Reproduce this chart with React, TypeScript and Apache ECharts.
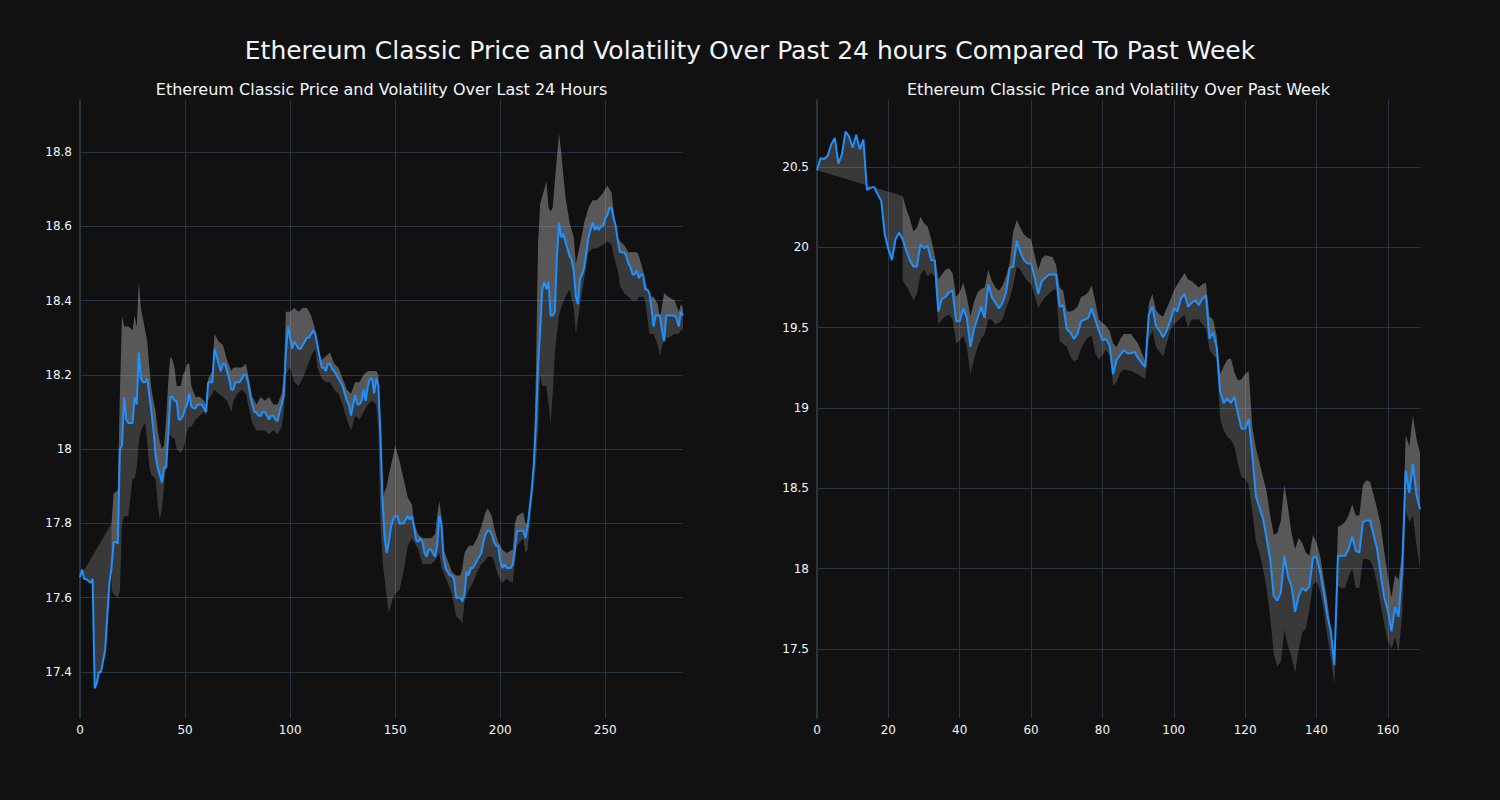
import React, { useEffect, useRef } from "react";
import * as echarts from "echarts";

// ---------- Data ----------
// Last 24 hours (5-minute steps), index 0..287
const leftPrice = [
  17.655, 17.676, 17.65, 17.65, 17.645, 17.64, 17.65, 17.356, 17.37, 17.4,
  17.4, 17.43, 17.46, 17.55, 17.64, 17.68, 17.75, 17.75, 17.745, 18.0,
  18.01, 18.14, 18.08, 18.07, 18.07, 18.07, 18.14, 18.12, 18.26, 18.19,
  18.18, 18.18, 18.19, 18.145, 18.1, 18.05, 17.98, 17.95, 17.93, 17.91,
  17.95, 17.95, 18.04, 18.14, 18.14, 18.13, 18.13, 18.08, 18.08, 18.09,
  18.11, 18.12, 18.15, 18.115, 18.11, 18.11, 18.12, 18.12, 18.12, 18.11,
  18.1, 18.18, 18.18, 18.18, 18.27, 18.25, 18.23, 18.21, 18.23, 18.23,
  18.21, 18.19, 18.16, 18.16, 18.18, 18.18, 18.18, 18.19, 18.2, 18.2,
  18.18, 18.145, 18.12, 18.1, 18.1, 18.09, 18.09, 18.1, 18.1, 18.09,
  18.08, 18.09, 18.09, 18.08, 18.075, 18.1, 18.12, 18.145, 18.26, 18.33,
  18.3, 18.27, 18.29, 18.28, 18.27, 18.27, 18.28, 18.29, 18.3, 18.3,
  18.31, 18.32, 18.31, 18.28, 18.25, 18.22, 18.22, 18.21, 18.23, 18.23,
  18.215, 18.21, 18.2, 18.19, 18.18, 18.17, 18.15, 18.13, 18.12, 18.09,
  18.12, 18.145, 18.12, 18.12, 18.13, 18.16, 18.13, 18.17, 18.19, 18.19,
  18.15, 18.19, 18.17, 18.04, 17.86, 17.76, 17.72, 17.75, 17.79, 17.81,
  17.82, 17.82, 17.8, 17.8, 17.8, 17.81, 17.82, 17.81, 17.82, 17.79,
  17.755, 17.75, 17.76, 17.75, 17.72, 17.71, 17.73, 17.73, 17.72, 17.71,
  17.74, 17.82, 17.8, 17.71, 17.68, 17.67, 17.66, 17.66, 17.65, 17.6,
  17.6, 17.6, 17.59, 17.61, 17.67, 17.66, 17.68, 17.68, 17.69, 17.7,
  17.71, 17.72, 17.75, 17.77, 17.78, 17.78, 17.77, 17.75, 17.74, 17.74,
  17.7, 17.68, 17.69, 17.68, 17.68, 17.68, 17.69, 17.73, 17.78, 17.78,
  17.78, 17.78, 17.76, 17.79, 17.84, 17.89, 17.96, 18.07, 18.22, 18.32,
  18.43, 18.45, 18.43, 18.45, 18.36, 18.36, 18.37, 18.52, 18.61, 18.57,
  18.58, 18.56, 18.54, 18.52, 18.51, 18.48, 18.41, 18.39, 18.46, 18.47,
  18.49, 18.53, 18.57, 18.59, 18.61, 18.59, 18.6, 18.59, 18.6, 18.6,
  18.62, 18.63, 18.65, 18.65, 18.62, 18.6, 18.56, 18.53, 18.53, 18.53,
  18.52, 18.5, 18.49, 18.47, 18.47, 18.48, 18.46, 18.47, 18.47, 18.43,
  18.43, 18.42, 18.38, 18.33, 18.36, 18.36, 18.36, 18.32, 18.29, 18.36,
  18.36, 18.36, 18.36, 18.36, 18.35, 18.33, 18.37, 18.36,
];

const leftBandX = [
  15, 16, 18, 19, 20, 21, 23, 25, 26, 27, 28, 29, 31, 32, 33, 34, 36, 37, 38, 39,
  40, 41, 42, 43, 44, 45, 46, 48, 49, 50, 51, 52, 53, 55, 57, 59, 60, 61, 63, 64,
  66, 68, 70, 72, 73, 75, 77, 79, 80, 82, 84, 86, 88, 90, 92, 94, 96, 97, 98, 100,
  102, 104, 106, 108, 110, 112, 113, 115, 117, 119, 121, 123, 125, 127, 129, 131, 133, 135, 137, 139,
  141, 142, 143, 144, 146, 147, 149, 150, 152, 154, 156, 158, 159, 161, 163, 165, 167, 169, 170, 171,
  172, 173, 175, 177, 179, 181, 182, 183, 185, 187, 189, 191, 193, 194, 196, 197, 199, 201, 203, 206,
  207, 208, 211, 212, 213, 214, 215, 216, 217, 218, 219, 220, 222, 223, 224, 225, 226, 228, 229, 231,
  233, 235, 236, 238, 240, 242, 244, 246, 249, 251, 253, 254, 256, 257, 259, 261, 263, 265, 266, 268,
  269, 271, 273, 275, 276, 278, 280, 283, 285, 286, 287,
];
const leftUpper = [
  17.8, 17.88, 17.89, 18.15, 18.36, 18.33, 18.33, 18.32, 18.36, 18.33, 18.45, 18.38, 18.32, 18.29, 18.22, 18.16, 18.1, 18.05, 18.02, 18.0,
  18.01, 18.08, 18.18, 18.25, 18.24, 18.22, 18.17, 18.17, 18.2, 18.21, 18.23, 18.23, 18.17, 18.14, 18.14, 18.13, 18.12, 18.19, 18.21, 18.31,
  18.29, 18.28, 18.24, 18.21, 18.22, 18.22, 18.22, 18.23, 18.2, 18.14, 18.12, 18.14, 18.13, 18.14, 18.12, 18.12, 18.15, 18.2, 18.37, 18.37,
  18.38, 18.37, 18.38, 18.38, 18.36, 18.32, 18.27, 18.24, 18.25, 18.26, 18.23, 18.22, 18.19, 18.16, 18.15, 18.18, 18.18, 18.2, 18.21, 18.21,
  18.21, 18.2, 18.0, 17.87, 17.9, 17.93, 17.98, 18.01, 17.97, 17.92, 17.87, 17.85, 17.8, 17.77, 17.76, 17.76, 17.76, 17.77, 17.82, 17.86,
  17.82, 17.73, 17.7, 17.67, 17.66, 17.66, 17.68, 17.72, 17.74, 17.74, 17.76, 17.79, 17.83, 17.84, 17.82, 17.79, 17.75, 17.73, 17.72, 17.73,
  17.8, 17.82, 17.83, 17.8, 17.8, 17.83, 17.9, 17.98, 18.2, 18.55, 18.66, 18.68, 18.72, 18.65, 18.64, 18.65, 18.72, 18.85, 18.8, 18.68,
  18.61, 18.57, 18.5, 18.55, 18.61, 18.65, 18.67, 18.67, 18.69, 18.71, 18.69, 18.64, 18.57, 18.56, 18.55, 18.53, 18.53, 18.53, 18.52, 18.48,
  18.45, 18.41, 18.41, 18.39, 18.35, 18.42, 18.41, 18.4, 18.37, 18.39, 18.38,
];
const leftLower = [
  17.62, 17.61, 17.6, 17.62, 17.8, 17.82, 17.82, 17.92, 17.92, 17.95, 18.02, 18.05, 18.07, 18.02, 17.95, 17.93, 17.92, 17.85, 17.81, 17.84,
  17.9, 17.96, 18.03, 18.04, 18.03, 18.03, 18.0, 17.99, 18.0, 18.02, 18.05, 18.06, 18.06, 18.08, 18.09, 18.1, 18.09, 18.13, 18.15, 18.16,
  18.15, 18.14, 18.13, 18.1, 18.13, 18.15, 18.16, 18.15, 18.12, 18.07, 18.05, 18.05, 18.05, 18.04, 18.05, 18.04, 18.06, 18.1, 18.2, 18.22,
  18.18, 18.17, 18.19, 18.22, 18.25, 18.27, 18.22, 18.19, 18.18, 18.18, 18.16, 18.15, 18.12, 18.08, 18.05, 18.09, 18.08, 18.1, 18.12, 18.13,
  18.12, 18.05, 17.8, 17.7, 17.6, 17.56, 17.6, 17.61, 17.62, 17.67, 17.74, 17.76, 17.75, 17.73, 17.69, 17.69, 17.69, 17.7, 17.71, 17.72,
  17.68, 17.67, 17.64, 17.61, 17.55, 17.54, 17.53, 17.59, 17.62, 17.64, 17.67, 17.69, 17.7, 17.71, 17.71, 17.7, 17.66, 17.64, 17.65, 17.64,
  17.7, 17.74, 17.76, 17.72, 17.73, 17.79, 17.85, 17.9, 17.96, 18.05, 18.2, 18.17, 18.17, 18.12, 18.07, 18.15, 18.26, 18.36, 18.38, 18.41,
  18.43, 18.38, 18.31, 18.39, 18.46, 18.53, 18.54, 18.54, 18.55, 18.56, 18.55, 18.52, 18.48, 18.44, 18.42, 18.41, 18.4, 18.4, 18.41, 18.41,
  18.4, 18.31, 18.31, 18.28, 18.25, 18.3, 18.3, 18.31, 18.31, 18.32, 18.32,
];

// Past week (hourly steps), index 0..169
const rightPrice = [
  20.48, 20.555, 20.55, 20.57, 20.64, 20.68, 20.52, 20.58, 20.72, 20.69,
  20.62, 20.7, 20.61, 20.67, 20.357, 20.37, 20.376, 20.33, 20.29, 20.08,
  19.99, 19.92, 20.05, 20.09, 20.05, 19.98, 19.92, 19.88, 19.88, 20.02,
  19.995, 20.01, 19.92, 19.92, 19.6, 19.68, 19.69, 19.72, 19.73, 19.54,
  19.54, 19.62, 19.56, 19.38, 19.49, 19.56, 19.63, 19.56, 19.77, 19.69,
  19.655, 19.62, 19.655, 19.72, 19.87, 19.88, 20.04, 19.97, 19.92, 19.9,
  19.9, 19.81, 19.71, 19.79, 19.81, 19.83, 19.83, 19.83, 19.63, 19.64,
  19.49, 19.47, 19.43, 19.46, 19.54, 19.55, 19.56, 19.62, 19.55, 19.48,
  19.42, 19.43, 19.39, 19.21, 19.3, 19.33, 19.36, 19.34, 19.34, 19.35,
  19.31, 19.28, 19.255, 19.58, 19.63, 19.51, 19.48, 19.44, 19.48, 19.54,
  19.62, 19.6, 19.68, 19.71, 19.63, 19.655, 19.67, 19.64, 19.68, 19.7,
  19.43, 19.47, 19.38, 19.1, 19.03, 19.06, 19.03, 19.07, 18.96, 18.87,
  18.87, 18.93, 18.71, 18.45, 18.38, 18.31, 18.19, 18.06, 17.83, 17.8,
  17.85, 18.08, 17.95, 17.89, 17.73, 17.83, 17.88, 17.86, 17.89, 18.07,
  18.07, 17.98, 17.85, 17.71, 17.61, 17.4, 18.08, 18.08, 18.08, 18.12,
  18.2, 18.11, 18.1, 18.29, 18.3, 18.3, 18.21, 18.12, 17.96, 17.82,
  17.74, 17.61, 17.76, 17.7, 18.0, 18.61, 18.47, 18.65, 18.46, 18.37,
];

const rightBandX = [
  24, 25, 26, 27, 28, 29, 30, 31, 32, 33, 34, 35, 36, 37, 38, 39, 40, 41, 42, 43,
  44, 45, 46, 47, 48, 49, 50, 51, 52, 53, 54, 55, 56, 57, 58, 59, 60, 61, 62, 63,
  64, 66, 67, 68, 69, 70, 71, 72, 73, 74, 75, 76, 77, 78, 79, 80, 81, 82, 83, 84,
  85, 86, 88, 90, 92, 93, 94, 95, 96, 97, 98, 99, 100, 101, 103, 104, 105, 107, 108, 109,
  110, 111, 112, 113, 114, 115, 116, 117, 118, 119, 120, 121, 122, 123, 124, 125, 126, 127, 128, 129,
  130, 131, 132, 133, 134, 135, 136, 137, 138, 139, 140, 141, 142, 143, 144, 145, 146, 147, 148, 149,
  150, 151, 152, 153, 154, 155, 156, 157, 158, 159, 160, 161, 162, 163, 164, 165, 166, 167, 168, 169,
];
const rightUpper = [
  20.32, 20.24, 20.18, 20.1, 20.12, 20.19, 20.15, 20.13, 20.05, 19.95, 19.8, 19.83, 19.86, 19.87, 19.84, 19.69, 19.72, 19.78, 19.69, 19.57,
  19.66, 19.72, 19.74, 19.75, 19.86, 19.79, 19.75, 19.73, 19.76, 19.82, 19.9, 20.1, 20.17, 20.12, 20.08, 20.06, 20.05, 19.95, 19.86, 19.93,
  19.95, 19.94, 19.89, 19.75, 19.73, 19.6, 19.6, 19.61, 19.63, 19.69, 19.7, 19.72, 19.76, 19.66, 19.55, 19.53, 19.51, 19.48, 19.4, 19.38,
  19.43, 19.46, 19.46, 19.4, 19.29, 19.65, 19.71, 19.61, 19.58, 19.57, 19.62, 19.67, 19.73, 19.77, 19.84, 19.8, 19.79, 19.75, 19.77, 19.78,
  19.57, 19.55, 19.45, 19.21, 19.26, 19.3, 19.31, 19.22, 19.17, 19.18, 19.21, 19.23, 18.88, 18.75, 18.66, 18.57, 18.48, 18.33, 18.21, 18.22,
  18.3, 18.52, 18.38, 18.22, 18.12, 18.19, 18.16, 18.1, 18.08, 18.21, 18.16, 18.08, 17.94, 17.8, 17.62, 17.44, 18.26, 18.27, 18.29, 18.33,
  18.4, 18.33, 18.33, 18.52, 18.55, 18.54, 18.46, 18.37, 18.27, 18.1, 17.95, 17.82, 17.96, 17.93, 18.1, 18.83, 18.76, 18.95, 18.81, 18.72,
];
const rightLower = [
  19.79, 19.76, 19.72, 19.67, 19.71, 19.83, 19.86, 19.82, 19.84, 19.82, 19.52, 19.55, 19.57, 19.58, 19.55, 19.4, 19.42, 19.45, 19.38, 19.21,
  19.3, 19.38, 19.43, 19.46, 19.55, 19.55, 19.52, 19.53, 19.55, 19.62, 19.68, 19.76, 19.88, 19.86, 19.82, 19.79, 19.77, 19.7, 19.62, 19.66,
  19.69, 19.73, 19.74, 19.42, 19.4, 19.38, 19.32, 19.29, 19.3, 19.37, 19.41, 19.44, 19.45, 19.34, 19.3, 19.33, 19.36, 19.33, 19.14, 19.16,
  19.22, 19.24, 19.23, 19.21, 19.18, 19.43, 19.48, 19.38, 19.35, 19.32, 19.4, 19.48, 19.52, 19.54, 19.58, 19.5, 19.55, 19.55, 19.52, 19.5,
  19.36, 19.33, 19.31, 18.93, 18.86, 18.82, 18.8, 18.76, 18.65, 18.57, 18.56, 18.52, 18.35, 18.17, 18.1, 18.0, 17.88, 17.7, 17.47, 17.39,
  17.42, 17.62, 17.52, 17.45, 17.35, 17.5, 17.6, 17.63, 17.74, 17.9, 17.92, 17.86, 17.74, 17.58, 17.45, 17.28, 17.89, 17.88, 17.88, 17.95,
  18.0, 17.88, 17.88, 18.06, 18.06, 18.05, 18.0, 17.9, 17.77, 17.65, 17.55, 17.5, 17.57, 17.48, 17.71, 18.36, 18.29, 18.33, 18.15, 18.0,
];

const mainTitle = "Ethereum Classic Price and Volatility Over Past 24 hours Compared To Past Week";
const leftTitle = "Ethereum Classic Price and Volatility Over Last 24 Hours";
const rightTitle = "Ethereum Classic Price and Volatility Over Past Week";

// ---------- Styling ----------
const FONT = "'DejaVu Sans', sans-serif";
const TXT = "#f2f5fa";
const GRID = "#283442";
const LINE = "#1e90ff";
const FILL = "rgba(200,200,200,0.22)";

function bandSeries(idx: number, price: number[], bx: number[], up: number[], lo: number[]) {
  return {
    type: "custom",
    xAxisIndex: idx,
    yAxisIndex: idx,
    silent: true,
    clip: true,
    z: 1,
    data: [[bx[0], up[0]]],
    renderItem: (_params: any, api: any) => {
      const upperPts = bx.map((x, i) => api.coord([x, up[i]]));
      const lowerPts = bx.map((x, i) => api.coord([x, lo[i]])).reverse();
      const pricePts = price.map((v, i) => api.coord([i, v])).reverse();
      return {
        type: "group",
        children: [
          { type: "polygon", shape: { points: [...upperPts, ...pricePts] }, style: { fill: FILL } },
          { type: "polygon", shape: { points: [...upperPts, ...lowerPts] }, style: { fill: FILL } },
        ],
      };
    },
  };
}

function priceSeries(idx: number, price: number[]) {
  return {
    type: "line",
    xAxisIndex: idx,
    yAxisIndex: idx,
    silent: true,
    z: 3,
    showSymbol: false,
    data: price.map((v, i) => [i, v]),
    lineStyle: { color: LINE, width: 2 },
  };
}

function xAxisCfg(idx: number, max: number, interval: number) {
  return {
    gridIndex: idx,
    type: "value",
    min: 0,
    max,
    interval,
    axisLine: { show: false },
    axisTick: { show: false },
    splitLine: { show: true, showMinLine: false, showMaxLine: false, lineStyle: { color: GRID, width: 1 } },
    axisLabel: { color: TXT, fontSize: 12, fontFamily: FONT, margin: 6, showMaxLabel: false },
  };
}

function yAxisCfg(idx: number, min: number, max: number, step: number) {
  return {
    gridIndex: idx,
    type: "value",
    min,
    max,
    splitNumber: 8,
    minInterval: step,
    maxInterval: step,
    axisLine: { show: true, onZero: false, lineStyle: { color: GRID, width: 2 } },
    axisTick: { show: false },
    splitLine: { show: true, showMinLine: false, showMaxLine: false, lineStyle: { color: GRID, width: 1 } },
    axisLabel: { color: TXT, fontSize: 12, fontFamily: FONT, margin: 8, showMinLabel: false, showMaxLabel: false },
  };
}

export default function App() {
  const ref = useRef<HTMLDivElement>(null);
  useEffect(() => {
    if (!ref.current) return;
    const chart = echarts.init(ref.current, null, { renderer: "svg" });
    chart.setOption({
      animation: false,
      backgroundColor: "#111111",
      textStyle: { fontFamily: FONT },
      grid: [
        { left: 80, top: 100, width: 603, height: 618 },
        { left: 817, top: 100, width: 603, height: 618 },
      ],
      xAxis: [xAxisCfg(0, leftPrice.length - 1, 50), xAxisCfg(1, rightPrice.length - 1, 20)],
      yAxis: [yAxisCfg(0, 17.276, 18.94, 0.2), yAxisCfg(1, 17.07, 20.917, 0.5)],
      graphic: [
        { type: "text", x: 750, y: 50, style: { text: mainTitle, fill: TXT, fontSize: 25, fontFamily: FONT, align: "center", verticalAlign: "middle" } },
        { type: "text", x: 381.5, y: 89, style: { text: leftTitle, fill: TXT, fontSize: 16, fontFamily: FONT, align: "center", verticalAlign: "middle" } },
        { type: "text", x: 1118.5, y: 89, style: { text: rightTitle, fill: TXT, fontSize: 16, fontFamily: FONT, align: "center", verticalAlign: "middle" } },
      ],
      series: [
        bandSeries(0, leftPrice, leftBandX, leftUpper, leftLower),
        priceSeries(0, leftPrice),
        bandSeries(1, rightPrice, rightBandX, rightUpper, rightLower),
        priceSeries(1, rightPrice),
      ],
    });
    return () => chart.dispose();
  }, []);
  return <div ref={ref} style={{ position: "absolute", left: 0, top: 0, width: 1500, height: 800 }} />;
}
